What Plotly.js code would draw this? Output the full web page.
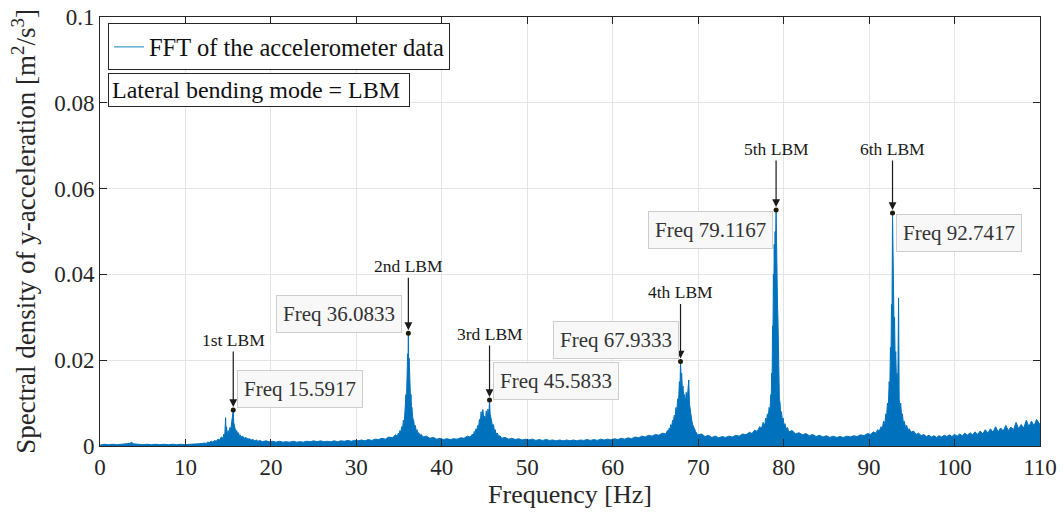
<!DOCTYPE html>
<html>
<head>
<meta charset="utf-8">
<script src="https://cdn.plot.ly/plotly-3.0.1.min.js"></script>
<style>html,body{margin:0;padding:0;background:#fff;}#chart{width:1064px;height:518px;}</style>
</head>
<body>
<div id="chart"></div>
<script>
// Frequency bins [Hz] (upper envelope of the FFT band)
const freqHz = [
0,0.5,1,1.5,2,2.5,3,3.5,3.7,3.9,4.5,5,5.5,6,6.5,7,7.5,8,8.5,9,9.5,10,10.5,11,11.5,12,
12.2,12.4,12.6,12.8,13,13.2,13.4,13.6,13.8,14,14.2,14.4,
14.5,14.6,14.7,14.75,14.8,14.9,15,15.1,15.2,15.3,15.4,15.5,15.5917,15.65,15.7,15.8,15.9,16,16.1,16.2,16.3,16.4,16.5,16.7,16.9,17.1,17.3,17.5,17.7,17.9,18.1,18.3,18.5,18.7,
19,19.4,19.8,20.2,20.6,21,21.4,21.8,22.2,22.6,23,23.4,23.8,24.2,24.6,25,25.4,25.8,26.2,26.6,27,27.4,27.8,28.2,28.6,29,29.4,29.8,30.2,30.6,31,31.4,31.8,32.2,32.6,33,33.4,33.8,34.2,34.6,
34.8,34.9,35,35.1,35.2,35.3,35.4,35.5,35.6,35.7,35.8,35.85,35.9,35.95,36,36.05,36.0833,36.12,36.17,36.22,36.28,36.34,36.4,36.45,36.5,36.6,36.7,36.8,36.9,37,37.1,37.2,37.3,37.45,37.6,
37.8,38.2,38.6,39,39.4,39.8,40.2,40.6,41,41.4,41.8,42.2,42.6,43,43.3,43.6,
43.7,43.8,43.9,44,44.1,44.2,44.3,44.4,44.5,44.6,44.7,44.8,44.9,45,45.1,45.2,45.3,45.4,45.5,45.5833,45.65,45.75,45.85,45.95,46.05,46.15,46.25,46.35,46.5,46.65,46.8,
47,47.4,47.8,48.2,48.6,49,49.4,49.8,50.2,50.6,51,51.4,51.8,52.2,52.6,53,53.4,53.8,54.2,54.6,55,55.4,55.8,56.2,56.6,57,57.4,57.8,58.2,58.6,59,59.4,59.8,60.2,60.6,61,61.4,61.8,62.2,62.6,63,63.4,63.8,64.2,64.6,65,65.4,65.8,66.2,
66.4,66.5,66.6,66.7,66.8,66.9,67,67.1,67.2,67.3,67.4,67.5,67.6,67.7,67.8,67.87,67.9333,68,68.07,68.15,68.22,68.3,68.4,68.5,68.6,68.7,68.8,68.9,68.97,69.05,69.15,69.25,69.35,69.45,69.55,69.7,69.85,
70,70.4,70.8,71.2,71.6,72,72.4,72.8,73.2,73.6,74,74.4,74.8,75.2,75.6,76,76.3,76.6,76.9,77.2,77.4,77.6,77.8,
77.9,78,78.1,78.2,78.3,78.4,78.5,78.55,78.6,78.65,78.7,78.75,78.8,78.85,78.9,78.95,79,79.05,79.1167,79.17,79.22,79.28,79.33,79.4,79.45,79.5,79.58,79.65,79.75,79.85,79.95,80.05,80.15,80.3,80.45,
80.6,81,81.4,81.8,82.2,82.6,83,83.4,83.8,84.2,84.6,85,85.4,85.8,86.2,86.6,87,87.4,87.8,88.2,88.6,89,89.4,89.8,90.2,90.5,90.8,91,91.2,91.4,91.55,91.7,91.85,
91.95,92.05,92.15,92.25,92.35,92.42,92.5,92.56,92.62,92.68,92.7417,92.8,92.86,92.92,92.98,93.05,93.12,93.2,93.28,93.35,93.45,93.52,93.6,93.7,93.8,93.9,94,94.1,94.25,94.4,94.55,94.7,
94.9,95.2,95.5,95.8,96.1,96.4,96.7,97,97.3,97.6,97.9,98.2,98.5,98.8,99.1,99.4,99.7,100,100.3,100.6,100.9,101.2,101.5,101.8,102.1,102.4,102.7,103,103.3,103.6,103.9,104.2,104.5,104.8,105.1,105.4,105.7,106,106.3,106.6,106.9,107.2,107.5,107.8,108.1,108.4,108.7,109,109.3,109.6,110
];
// Spectral density of y-acceleration [m^2/s^3]
const psd = [
.0002,.0004,.0003,.0004,.0003,.0004,.0004,.0006,.0009,.0005,.0004,.0003,.0004,.0003,.0004,.0003,.0004,.0003,.0004,.0003,.0004,.0003,.0004,.0004,.0005,.0006,
.0007,.0006,.0009,.0008,.0011,.0009,.0013,.0011,.0016,.0014,.0021,.0018,
.0028,.0024,.0066,.0030,.0045,.0027,.0036,.0030,.0043,.0038,.0052,.0062,.0084,.0055,.0048,.0041,.0034,.0036,.0028,.0031,.0024,.0026,.0021,.0023,.0018,.0020,.0016,.0017,.0014,.0015,.0012,.0014,.0011,.0013,
.0010,.0012,.0010,.0011,.0009,.0011,.0009,.0010,.0009,.0011,.0009,.0010,.0009,.0011,.0010,.0012,.0010,.0012,.0010,.0011,.0010,.0012,.0010,.0012,.0011,.0013,.0011,.0013,.0012,.0014,.0012,.0015,.0013,.0016,.0015,.0018,.0016,.0021,.0019,.0026,
.0022,.0030,.0027,.0036,.0031,.0045,.0040,.0060,.0052,.0085,.0120,.0095,.0170,.0140,.0215,.0200,.0263,.0190,.0205,.0150,.0160,.0110,.0120,.0085,.0090,.0065,.0060,.0045,.0048,.0035,.0038,.0029,.0031,.0025,.0027,
.0021,.0023,.0018,.0020,.0016,.0018,.0015,.0017,.0015,.0017,.0016,.0019,.0018,.0023,.0021,.0028,
.0026,.0034,.0031,.0040,.0038,.0048,.0043,.0062,.0055,.0080,.0060,.0085,.0065,.0070,.0058,.0082,.0062,.0086,.0070,.0107,.0075,.0065,.0060,.0045,.0050,.0035,.0038,.0028,.0030,.0022,.0024,
.0018,.0020,.0016,.0018,.0015,.0017,.0014,.0016,.0014,.0016,.0013,.0015,.0013,.0015,.0013,.0014,.0012,.0014,.0012,.0014,.0012,.0014,.0012,.0014,.0013,.0015,.0013,.0015,.0013,.0016,.0014,.0016,.0014,.0017,.0015,.0018,.0016,.0019,.0017,.0021,.0019,.0023,.0021,.0025,.0023,.0027,.0025,.0030,.0028,
.0036,.0032,.0042,.0038,.0050,.0045,.0060,.0055,.0072,.0065,.0090,.0080,.0110,.0100,.0150,.0130,.0197,.0160,.0170,.0130,.0140,.0115,.0120,.0100,.0125,.0105,.0130,.0154,.0100,.0085,.0070,.0060,.0050,.0045,.0038,.0034,.0029,
.0026,.0028,.0022,.0025,.0020,.0023,.0019,.0022,.0020,.0023,.0021,.0025,.0023,.0028,.0026,.0032,.0029,.0037,.0034,.0045,.0040,.0055,.0048,
.0065,.0058,.0075,.0068,.0090,.0080,.0120,.0105,.0170,.0150,.0280,.0250,.0400,.0350,.0470,.0420,.0500,.0460,.0550,.0440,.0470,.0330,.0300,.0180,.0150,.0110,.0100,.0075,.0080,.0060,.0065,.0048,.0052,.0040,.0043,
.0033,.0036,.0028,.0031,.0026,.0029,.0024,.0027,.0022,.0025,.0021,.0024,.0020,.0023,.0020,.0022,.0020,.0023,.0021,.0024,.0022,.0026,.0024,.0029,.0027,.0033,.0030,.0038,.0035,.0045,.0042,.0058,.0052,
.0075,.0068,.0100,.0090,.0150,.0130,.0230,.0200,.0330,.0300,.0543,.0380,.0420,.0280,.0300,.0200,.0220,.0150,.0170,.0120,.0345,.0110,.0090,.0100,.0070,.0075,.0055,.0058,.0045,.0048,.0038,.0040,
.0032,.0035,.0027,.0030,.0024,.0027,.0022,.0025,.0021,.0024,.0020,.0024,.0021,.0025,.0022,.0026,.0022,.0027,.0023,.0028,.0024,.0030,.0025,.0031,.0026,.0033,.0027,.0035,.0028,.0038,.0030,.0040,.0032,.0045,.0033,.0042,.0035,.0048,.0036,.0044,.0038,.0055,.0040,.0050,.0042,.0060,.0045,.0058,.0047,.0062,.0050
];
// Identified lateral bending modes
const peakFreq = [15.5917, 36.0833, 45.5833, 67.9333, 79.1167, 92.7417];
const peakVal  = [0.0084, 0.0263, 0.0107, 0.0197, 0.0550, 0.0543];
const modeLabel = ['1st LBM', '2nd LBM', '3rd LBM', '4th LBM', '5th LBM', '6th LBM'];
const xTicks = [0, 10, 20, 30, 40, 50, 60, 70, 80, 90, 100, 110];
const yTicks = [0, 0.02, 0.04, 0.06, 0.08, 0.1];
const yTickText = ['0', '0.02', '0.04', '0.06', '0.08', '0.1'];

// placement of the labels (styles, not data)
const labelAy   = [-70, -67, -66, -69, -61, -64];
const boxAnchor = ['left', 'right', 'left', 'right', 'right', 'left'];
const boxXShift = [4, -6, 3, -2, -3, 3];
const boxYShift = [21, 19, 19, 21, -20, -20];

const FONT = 'Liberation Serif, Times New Roman, serif';
const INK = '#262626';
const BLUE = '#0072BD';

const traces = [
  {x: freqHz, y: psd, type: 'scatter', mode: 'lines', fill: 'tozeroy',
   fillcolor: BLUE, line: {color: BLUE, width: 1}, showlegend: false, hoverinfo: 'x+y'},
  {x: [null], y: [null], type: 'scatter', mode: 'lines', name: 'FFT of the accelerometer data',
   line: {color: '#3f9fc6', width: 1.2}, showlegend: true},
  {x: peakFreq, y: peakVal, type: 'scatter', mode: 'markers', showlegend: false,
   marker: {color: '#1f1a05', size: 5}}
];

const annotations = [];
peakFreq.forEach((f, i) => {
  annotations.push({
    x: f, y: peakVal[i], xref: 'x', yref: 'y', text: modeLabel[i],
    showarrow: true, arrowhead: 2, arrowsize: 1.3, arrowwidth: 1.2, arrowcolor: '#1a1a1a',
    ax: 0, ay: labelAy[i], standoff: 3,
    font: {family: FONT, size: 17.5, color: '#1a1a1a'}
  });
  annotations.push({
    x: f, y: peakVal[i], xref: 'x', yref: 'y', text: 'Freq ' + f,
    showarrow: false, xanchor: boxAnchor[i], yanchor: 'middle',
    xshift: boxXShift[i], yshift: boxYShift[i],
    bgcolor: '#f8f8f9', bordercolor: '#cdcdcd', borderwidth: 1, borderpad: 6,
    font: {family: FONT, size: 21, color: '#333333'}
  });
});
annotations.push({
  xref: 'paper', yref: 'paper', x: 0.0085, y: 0.8695, xanchor: 'left', yanchor: 'top',
  text: 'Lateral bending mode = LBM', showarrow: false, align: 'left', width: 294,
  bgcolor: '#ffffff', bordercolor: INK, borderwidth: 1, borderpad: 3,
  font: {family: FONT, size: 24, color: '#111'}
});

const axisCommon = {
  ticks: 'inside', ticklen: 7, tickcolor: INK, tickwidth: 1,
  showline: true, mirror: 'ticks', linecolor: INK, linewidth: 1,
  showgrid: true, gridcolor: '#e4e4e4', gridwidth: 1, zeroline: false,
  tickfont: {family: FONT, size: 23, color: INK}
};

const layout = {
  width: 1064, height: 518,
  margin: {l: 100, r: 24, t: 17, b: 72},
  paper_bgcolor: '#ffffff', plot_bgcolor: '#ffffff',
  font: {family: FONT, color: INK},
  showlegend: true,
  legend: {x: 0.0085, y: 0.985, xanchor: 'left', yanchor: 'top',
           bgcolor: '#ffffff', bordercolor: INK, borderwidth: 1,
           font: {family: FONT, size: 24.5, color: '#111'}},
  xaxis: Object.assign({}, axisCommon, {
    range: [0, 110], tickvals: xTicks, ticktext: xTicks.map(String),
    title: {text: 'Frequency [Hz]', font: {family: FONT, size: 26, color: INK}, standoff: 4}
  }),
  yaxis: Object.assign({}, axisCommon, {
    range: [0, 0.1], tickvals: yTicks, ticktext: yTickText,
    title: {text: 'Spectral density of y-acceleration [m<sup>2</sup>/s<sup>3</sup>]',
            font: {family: FONT, size: 27, color: INK}, standoff: 10}
  }),
  annotations: annotations
};

Plotly.newPlot('chart', traces, layout, {displayModeBar: false, staticPlot: true});
</script>
</body>
</html>
